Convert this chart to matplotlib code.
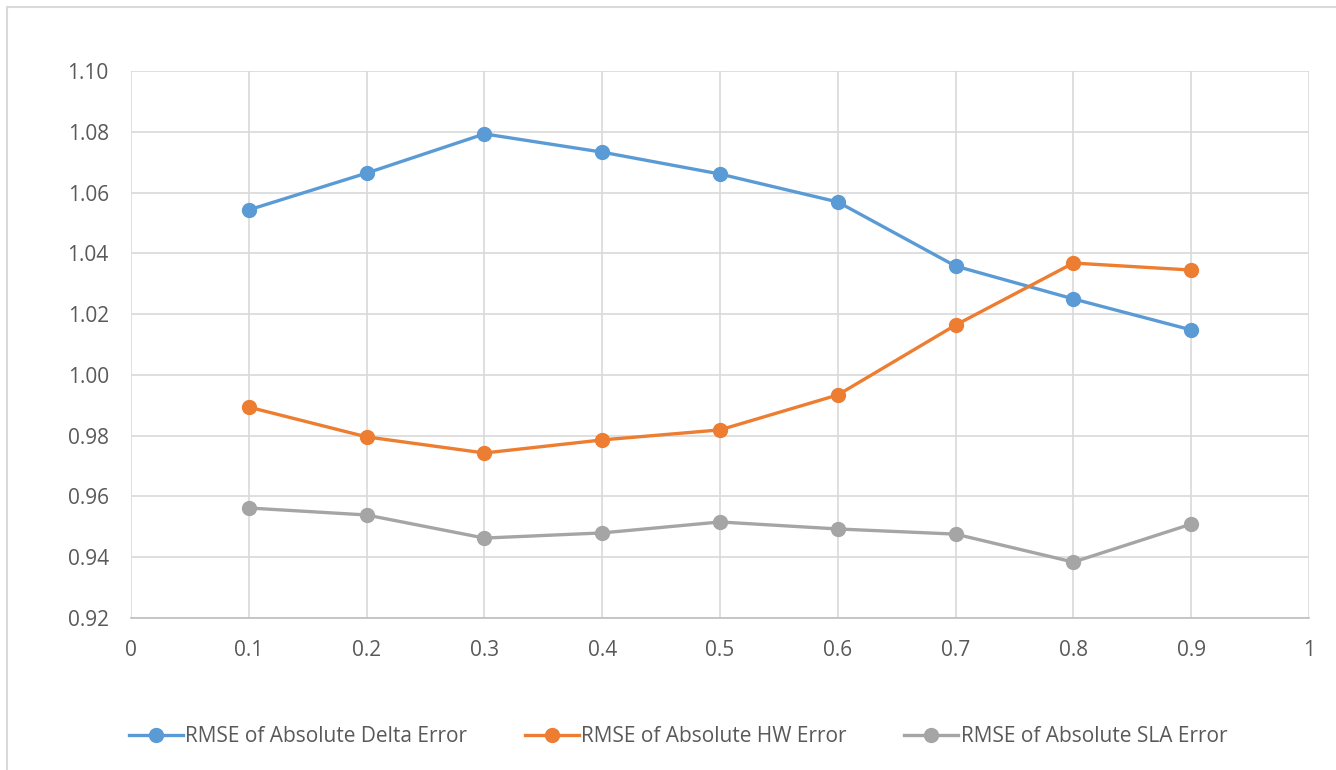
import matplotlib
matplotlib.use("Agg")
import matplotlib.pyplot as plt
from matplotlib.patches import Rectangle

x = [0.1, 0.2, 0.3, 0.4, 0.5, 0.6, 0.7, 0.8, 0.9]
delta = [1.0543, 1.0664, 1.0793, 1.0733, 1.0661, 1.0569, 1.0358, 1.0250, 1.0148]
hw = [0.9894, 0.9796, 0.9743, 0.9786, 0.9819, 0.9934, 1.0164, 1.0368, 1.0345]
sla = [0.9562, 0.9539, 0.9463, 0.9480, 0.9516, 0.9493, 0.9476, 0.9384, 0.9509]
labels = ["RMSE of Absolute Delta Error", "RMSE of Absolute HW Error", "RMSE of Absolute SLA Error"]
colors = ["#5B9BD5", "#ED7D31", "#A5A5A5"]
yticks = [0.92, 0.94, 0.96, 0.98, 1.00, 1.02, 1.04, 1.06, 1.08, 1.10]
xticks = [0, 0.1, 0.2, 0.3, 0.4, 0.5, 0.6, 0.7, 0.8, 0.9, 1]
xticklabels = ["0", "0.1", "0.2", "0.3", "0.4", "0.5", "0.6", "0.7", "0.8", "0.9", "1"]

plt.rcParams['font.family'] = ['Open Sans', 'DejaVu Sans']
fig = plt.figure(figsize=(13.36, 7.7), dpi=100)
ax = fig.add_axes([131/1336, 1-618/770, (1309-131)/1336, (618-71)/770])

fig.patches.append(Rectangle((7/1336, -0.05), 1.05, 1-7/770+0.05, transform=fig.transFigure,
                             fill=False, edgecolor="#d9d9d9", linewidth=1.5, zorder=0))

for ys, c, lab in zip([delta, hw, sla], colors, labels):
    ax.plot(x, ys, color=c, lw=2.4, marker='o', markersize=10, label=lab, zorder=3, clip_on=False)

ax.set_xlim(0, 1)
ax.set_ylim(0.92, 1.10)
ax.set_yticks(yticks)
ax.set_yticklabels([f"{v:.2f}" for v in yticks])
ax.set_xticks(xticks)
ax.set_xticklabels(xticklabels)
ax.grid(True, color="#d9d9d9", lw=1.2)
ax.set_axisbelow(True)
for s in ["top", "right", "left"]:
    ax.spines[s].set_visible(False)
ax.spines["bottom"].set_color("#bfbfbf")
ax.spines["bottom"].set_linewidth(1.2)
ax.tick_params(length=0, labelsize=15, colors="#595959")
ax.tick_params(axis='x', pad=16)
ax.tick_params(axis='y', pad=16)

fig.legend(loc="center", bbox_to_anchor=(678/1336, 1-737/770), ncol=3, frameon=False,
           fontsize=15, labelcolor="#595959", handlelength=2.6, handletextpad=0.12,
           columnspacing=2.75)

fig.savefig("out.png", dpi=100)
